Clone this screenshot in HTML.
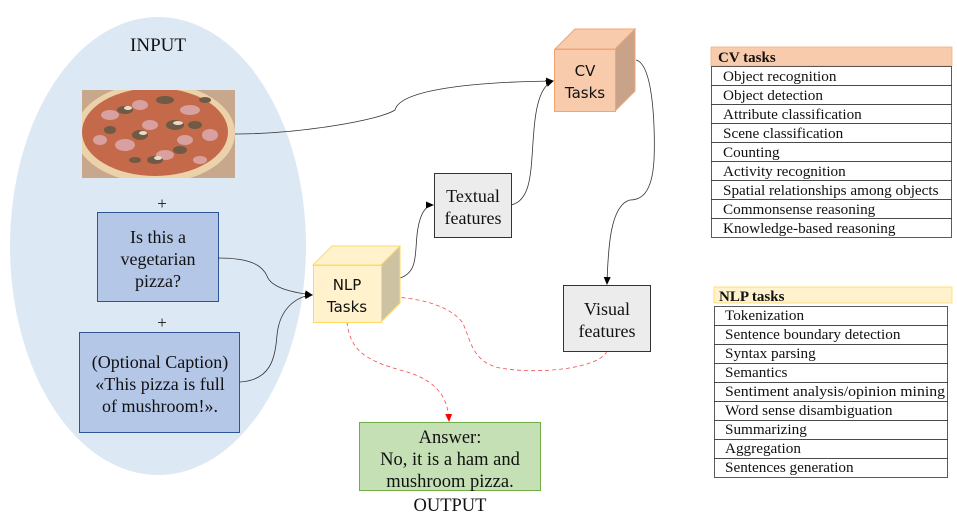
<!DOCTYPE html>
<html><head><meta charset="utf-8"><style>
html,body{margin:0;padding:0;background:#fff;width:957px;height:528px;overflow:hidden}
svg{display:block}
text{font-family:"Liberation Serif",serif;fill:#111}
.sans{font-family:"DejaVu Sans","Liberation Sans",sans-serif}
</style></head><body>
<svg width="957" height="528" viewBox="0 0 957 528" xmlns="http://www.w3.org/2000/svg">
<defs>
<marker id="ab" markerWidth="8" markerHeight="8" refX="7" refY="4" orient="auto" markerUnits="userSpaceOnUse"><path d="M0,0.5 L8,4 L0,7.5 z" fill="#000"/></marker>
<marker id="ar" markerWidth="8" markerHeight="8" refX="7" refY="4" orient="auto" markerUnits="userSpaceOnUse"><path d="M0,0.5 L8,4 L0,7.5 z" fill="#f00"/></marker>
<clipPath id="pc"><rect x="82" y="90" width="153" height="88"/></clipPath>
</defs>
<ellipse cx="158" cy="246" rx="148" ry="229" fill="#dde8f5"/>
<text x="158" y="51" font-size="19" text-anchor="middle">INPUT</text>
<!-- pizza -->
<g clip-path="url(#pc)">
<rect x="82" y="90" width="153" height="88" fill="#c8a88c"/>
<ellipse cx="155" cy="133" rx="80" ry="50" fill="#ecd2ab"/>
<ellipse cx="155" cy="132" rx="73" ry="44" fill="#c46a4a"/>
<g fill="#d9a0a0"><ellipse cx="110" cy="115" rx="9" ry="5"/><ellipse cx="140" cy="105" rx="8" ry="5"/><ellipse cx="190" cy="110" rx="10" ry="5"/><ellipse cx="210" cy="135" rx="8" ry="6"/><ellipse cx="125" cy="145" rx="10" ry="6"/><ellipse cx="165" cy="155" rx="9" ry="5"/><ellipse cx="100" cy="140" rx="7" ry="5"/><ellipse cx="185" cy="140" rx="8" ry="5"/><ellipse cx="150" cy="125" rx="8" ry="5"/><ellipse cx="200" cy="160" rx="7" ry="4"/></g>
<g fill="#6e5a45"><ellipse cx="125" cy="110" rx="8" ry="4"/><ellipse cx="165" cy="100" rx="9" ry="4"/><ellipse cx="175" cy="125" rx="9" ry="5"/><ellipse cx="140" cy="135" rx="8" ry="5"/><ellipse cx="110" cy="130" rx="6" ry="4"/><ellipse cx="195" cy="125" rx="7" ry="4"/><ellipse cx="155" cy="160" rx="8" ry="4"/><ellipse cx="180" cy="150" rx="7" ry="4"/><ellipse cx="205" cy="100" rx="6" ry="3"/><ellipse cx="135" cy="160" rx="6" ry="3"/></g>
<g fill="#e8dcc8"><ellipse cx="128" cy="108" rx="4" ry="2"/><ellipse cx="178" cy="123" rx="5" ry="2"/><ellipse cx="143" cy="133" rx="4" ry="2"/><ellipse cx="158" cy="158" rx="4" ry="2"/></g>
</g>
<text x="162" y="209" font-size="17" text-anchor="middle">+</text>
<rect x="97.5" y="212.5" width="121" height="89" fill="#b4c7e7" stroke="#2f5597"/>
<text font-size="18" text-anchor="middle"><tspan x="158" y="243">Is this a</tspan><tspan x="158" y="265">vegetarian</tspan><tspan x="158" y="287">pizza?</tspan></text>
<text x="162" y="328" font-size="17" text-anchor="middle">+</text>
<rect x="79.5" y="332.5" width="160" height="100" fill="#b4c7e7" stroke="#2f5597"/>
<text font-size="18" text-anchor="middle"><tspan x="160" y="368">(Optional Caption)</tspan><tspan x="160" y="390">«This pizza is full</tspan><tspan x="160" y="412">of mushroom!».</tspan></text>

<!-- connectors -->
<g fill="none" stroke="#333" stroke-width="0.8">
<path d="M235,134 C300,134 380,120 395,110 C400,90 470,82 553,81" marker-end="url(#ab)"/>
<path d="M218,258 C250,258 262,265 267,276 C272,290 300,293 312,295" marker-end="url(#ab)"/>
<path d="M240,382 C270,380 275,360 277,335 C280,305 300,296 312,295" marker-end="url(#ab)"/>
<path d="M400,278 C420,272 414,248 418,228 C421,210 428,205 433,205" marker-end="url(#ab)"/>
<path d="M511,205 C535,200 530,160 535,120 C538,95 545,84 553,81" marker-end="url(#ab)"/>
<path d="M636,60 C655,65 655,140 654,160 C652,195 640,200 630,200 C610,205 608,250 607,284" marker-end="url(#ab)"/>
</g>
<g fill="none" stroke="#f05050" stroke-width="0.8" stroke-dasharray="4,3">
<path d="M607,351 C600,368 540,375 500,368 C470,362 470,335 462,322 C445,300 400,296 382,297" marker-end="url(#ar)"/>
<path d="M347,322 C350,350 365,360 400,370 C440,380 448,400 449,421" marker-end="url(#ar)"/>
</g>

<!-- NLP cube -->
<polygon points="313,265 332,246 400,246 381,265" fill="#fff2cc" stroke="#ffd966"/>
<polygon points="381,265 400,246 400,303 381,322" fill="#cdc3a3" stroke="#ffd966"/>
<rect x="313.5" y="265.5" width="68" height="57" fill="#fff2cc" stroke="#ffd966"/>
<text class="sans" font-size="15" text-anchor="middle"><tspan x="347" y="290">NLP</tspan><tspan x="347" y="312">Tasks</tspan></text>
<!-- CV cube -->
<polygon points="555,49 575,29 635,29 615,49" fill="#f8cbad" stroke="#f4a470"/>
<polygon points="615,49 635,29 635,91 615,111" fill="#c8a38a" stroke="#f4a470"/>
<rect x="554.5" y="49.5" width="61" height="62" fill="#f8cbad" stroke="#f4a470"/>
<text class="sans" font-size="15" text-anchor="middle"><tspan x="585" y="76">CV</tspan><tspan x="585" y="98">Tasks</tspan></text>

<rect x="434.5" y="173.5" width="77" height="64" fill="#ececec" stroke="#333"/>
<text font-size="18" text-anchor="middle"><tspan x="473" y="202">Textual</tspan><tspan x="473" y="224">features</tspan></text>
<rect x="563.5" y="285.5" width="87" height="66" fill="#ececec" stroke="#333"/>
<text font-size="18" text-anchor="middle"><tspan x="607" y="315">Visual</tspan><tspan x="607" y="337">features</tspan></text>

<rect x="359.5" y="422.5" width="181" height="68" fill="#c5e0b4" stroke="#70ad47"/>
<text font-size="18.5" text-anchor="middle"><tspan x="450" y="443">Answer:</tspan><tspan x="450" y="465">No, it is a ham and</tspan><tspan x="450" y="487">mushroom pizza.</tspan></text>
<text x="450" y="511" font-size="18.5" text-anchor="middle">OUTPUT</text>

<!-- CV table -->
<rect x="711" y="47" width="241" height="19" fill="#f8cbad" stroke="#f4b183" stroke-width="0.8"/>
<text x="718" y="62" font-size="15" font-weight="bold">CV tasks</text>
<g fill="#fff" stroke="#333" stroke-width="0.8">
<rect x="711.5" y="66.5" width="240" height="19"/><rect x="711.5" y="85.5" width="240" height="19"/><rect x="711.5" y="104.5" width="240" height="19"/><rect x="711.5" y="123.5" width="240" height="19"/><rect x="711.5" y="142.5" width="240" height="19"/><rect x="711.5" y="161.5" width="240" height="19"/><rect x="711.5" y="180.5" width="240" height="19"/><rect x="711.5" y="199.5" width="240" height="19"/><rect x="711.5" y="218.5" width="240" height="19"/>
</g>
<g font-size="15.2">
<text x="723" y="81">Object recognition</text><text x="723" y="100">Object detection</text><text x="723" y="119">Attribute classification</text><text x="723" y="138">Scene classification</text><text x="723" y="157">Counting</text><text x="723" y="176">Activity recognition</text><text x="723" y="195">Spatial relationships among objects</text><text x="723" y="214">Commonsense reasoning</text><text x="723" y="233">Knowledge-based reasoning</text>
</g>
<!-- NLP table -->
<rect x="714" y="287" width="238" height="16" fill="#fff2cc" stroke="#ffd966" stroke-width="0.8"/>
<text x="719" y="301" font-size="15" font-weight="bold">NLP tasks</text>
<g fill="#fff" stroke="#333" stroke-width="0.8">
<rect x="714.5" y="306.5" width="233" height="19"/><rect x="714.5" y="325.5" width="233" height="19"/><rect x="714.5" y="344.5" width="233" height="19"/><rect x="714.5" y="363.5" width="233" height="19"/><rect x="714.5" y="382.5" width="233" height="19"/><rect x="714.5" y="401.5" width="233" height="19"/><rect x="714.5" y="420.5" width="233" height="19"/><rect x="714.5" y="439.5" width="233" height="19"/><rect x="714.5" y="458.5" width="233" height="19"/>
</g>
<g font-size="15.2" textLength="0">
<text x="725" y="320">Tokenization</text><text x="725" y="339">Sentence boundary detection</text><text x="725" y="358">Syntax parsing</text><text x="725" y="377">Semantics</text><text x="725" y="396" textLength="220" lengthAdjust="spacingAndGlyphs">Sentiment analysis/opinion mining</text><text x="725" y="415">Word sense disambiguation</text><text x="725" y="434">Summarizing</text><text x="725" y="453">Aggregation</text><text x="725" y="472">Sentences generation</text>
</g>
</svg>
</body></html>
